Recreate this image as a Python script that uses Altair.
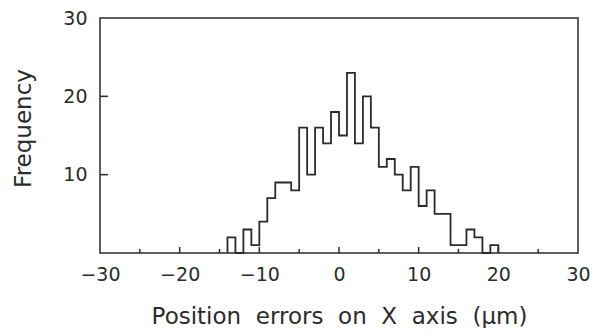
import altair as alt
import pandas as pd

# Histogram of position errors (bin width 1 µm), left edges and frequencies
bin_left = list(range(-14, 20))
counts = [2, 0, 3, 1, 4, 7, 9, 9, 8, 16, 10, 16, 14, 18, 15, 23, 14, 20, 16,
          11, 12, 10, 8, 11, 6, 8, 5, 5, 1, 1, 3, 2, 0, 1]

x_labels = [-30, -20, -10, 0, 10, 20, 30]
y_labels = [10, 20, 30]
y_ticks = [10, 20]
x_major_ticks = [-20, -10, 0, 10, 20]
x_minor_ticks = [-25, -15, -5, 5, 15, 25]

INK = "#2b2b2b"
FONT = "DejaVu Sans"
GAP = "\u00a0 "
X_TITLE = GAP.join(["Position", "errors", "on", "X", "axis", "(μm)"])

# Step outline points
xs = [bin_left[0]] + bin_left + [bin_left[-1] + 1]
ys = [0] + counts + [0]
step_df = pd.DataFrame({"x": xs, "y": ys, "i": range(len(xs))})

xscale = alt.Scale(domain=[-30, 30], nice=False, zero=False)
yscale = alt.Scale(domain=[0, 30], nice=False)

x_axis = alt.Axis(values=x_labels, title=X_TITLE,
                  tickSize=0, domain=False, grid=False, labelFlush=False,
                  labelPadding=12, titlePadding=21, format="d")
y_axis = alt.Axis(values=y_labels, title="Frequency",
                  tickSize=0, domain=False, grid=False,
                  labelPadding=13, titlePadding=27, titleY=110)

W, H = 478, 235

line = alt.Chart(step_df).mark_line(
    interpolate="step-after", color=INK, strokeWidth=1.8
).encode(
    x=alt.X("x:Q", scale=xscale, axis=x_axis),
    y=alt.Y("y:Q", scale=yscale, axis=y_axis),
    order="i:Q",
)

yt = alt.Chart(pd.DataFrame({"y": y_ticks})).mark_rule(color=INK, strokeWidth=1.5).encode(
    y=alt.Y("y:Q", scale=yscale, axis=y_axis),
    x=alt.value(0), x2=alt.value(8),
)

xt_major = alt.Chart(pd.DataFrame({"x": x_major_ticks})).mark_rule(color=INK, strokeWidth=1.5).encode(
    x=alt.X("x:Q", scale=xscale, axis=x_axis),
    y=alt.value(H), y2=alt.value(H - 6),
)

xt_minor = alt.Chart(pd.DataFrame({"x": x_minor_ticks})).mark_rule(color=INK, strokeWidth=1.5).encode(
    x=alt.X("x:Q", scale=xscale, axis=x_axis),
    y=alt.value(H), y2=alt.value(H - 4),
)

chart = alt.layer(line, yt, xt_major, xt_minor).properties(
    width=W, height=H,
    autosize=alt.AutoSizeParams(type="none"),
    padding={"left": 92, "top": 10, "right": 16, "bottom": 75},
    background="white",
).configure_view(
    stroke=INK, strokeWidth=1.5
).configure_axis(
    labelFont=FONT, labelFontSize=19, labelColor=INK,
    titleFont=FONT, titleFontSize=23, titleColor=INK, titleFontWeight="normal",
)

chart.save("out.html", embed_options={"renderer": "svg", "actions": False})
